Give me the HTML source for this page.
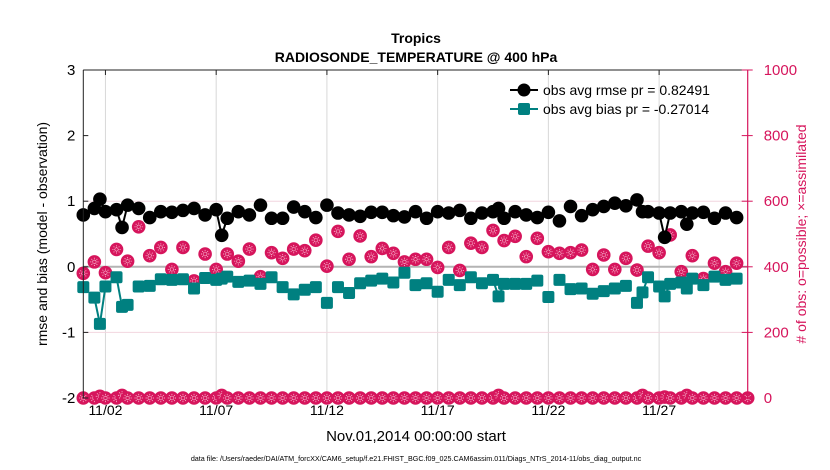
<!DOCTYPE html>
<html><head><meta charset="utf-8"><style>
html,body{margin:0;padding:0;background:#fff;}
svg{display:block;font-family:"Liberation Sans",sans-serif;}
</style></head><body>
<svg id="chart" width="830" height="470" viewBox="0 0 830 470">
<text x="416" y="43" text-anchor="middle" font-size="14" font-weight="bold">Tropics</text>
<text x="416" y="62" text-anchor="middle" font-size="14" font-weight="bold">RADIOSONDE_TEMPERATURE @ 400 hPa</text>
<g id="grid"></g>
<g id="marks"></g>
<g id="axes"></g>
<text transform="translate(47,234) rotate(-90)" text-anchor="middle" font-size="14">rmse and bias (model - observation)</text>
<text transform="translate(806,234) rotate(-90)" text-anchor="middle" font-size="14" fill="#d6155c"># of obs: o=possible; ×=assimilated</text>
<text x="416" y="441" text-anchor="middle" font-size="15">Nov.01,2014 00:00:00 start</text>
<text x="416" y="461" text-anchor="middle" font-size="7.2">data file: /Users/raeder/DAI/ATM_forcXX/CAM6_setup/f.e21.FHIST_BGC.f09_025.CAM6assim.011/Diags_NTrS_2014-11/obs_diag_output.nc</text>
<g>
<line x1="510" y1="90" x2="538" y2="90" stroke="#000" stroke-width="2"/>
<circle cx="524" cy="90" r="6.5" fill="#000"/>
<text x="543" y="95" font-size="14">obs avg rmse pr = 0.82491</text>
<line x1="510" y1="109" x2="538" y2="109" stroke="#008080" stroke-width="2"/>
<rect x="518" y="103" width="12" height="12" rx="2" fill="#008080"/>
<text x="543" y="114" font-size="14">obs avg bias pr = -0.27014</text>
</g>
</svg>
<script>
// time slots: 6-hourly index from Nov.01 00:00 (4 per day)
const errSlots = [0,2,3,4,6,7,8,10,12,14,16,18,20,22,24,25,26,28,30,32,34,36,38,40,42,44,46,48,50,52,54,56,58,60,62,64,66,68,70,72,74,75,76,78,80,82,84,86,88,90,92,94,96,98,100,101,102,104,105,106,108,109,110,112,114,116,118];
const rmseVals = [0.79,0.89,1.03,0.84,0.87,0.60,0.94,0.89,0.75,0.84,0.83,0.86,0.89,0.79,0.87,0.48,0.74,0.84,0.79,0.94,0.74,0.74,0.91,0.84,0.75,0.94,0.82,0.79,0.77,0.83,0.83,0.78,0.76,0.84,0.74,0.84,0.82,0.86,0.74,0.82,0.84,0.89,0.74,0.84,0.79,0.75,0.83,0.70,0.92,0.78,0.87,0.92,0.97,0.93,1.02,0.84,0.84,0.82,0.45,0.82,0.84,0.65,0.82,0.83,0.74,0.82,0.75];
const biasVals = [-0.31,-0.47,-0.87,-0.30,-0.16,-0.61,-0.58,-0.30,-0.29,-0.19,-0.20,-0.19,-0.33,-0.17,-0.20,-0.18,-0.15,-0.23,-0.21,-0.26,-0.16,-0.31,-0.42,-0.35,-0.31,-0.55,-0.31,-0.40,-0.25,-0.21,-0.18,-0.24,-0.09,-0.28,-0.25,-0.38,-0.20,-0.28,-0.16,-0.25,-0.20,-0.45,-0.26,-0.26,-0.26,-0.21,-0.46,-0.20,-0.34,-0.33,-0.41,-0.37,-0.33,-0.29,-0.55,-0.39,-0.16,-0.30,-0.45,-0.26,-0.24,-0.33,-0.18,-0.28,-0.15,-0.20,-0.18];
const obsSlots = [0,2,4,6,8,10,12,14,16,18,20,22,24,26,28,30,32,34,36,38,40,42,44,46,48,50,52,54,56,58,60,62,64,66,68,70,72,74,76,78,80,82,84,86,88,90,92,94,96,98,100,102,104,106,108,110,112,114,116,118];
const obsPossible = [380,415,382,453,417,522,434,459,392,459,357,439,392,439,417,454,370,443,426,454,449,481,402,508,423,494,431,456,441,415,423,423,398,459,389,472,459,511,480,493,431,487,446,441,443,451,392,436,392,426,390,463,443,497,385,434,364,411,385,411];
const lowSlots = [0,2,3,4,6,7,8,10,12,14,16,18,20,22,24,25,26,28,30,32,34,36,38,40,42,44,46,48,50,52,54,56,58,60,62,64,66,68,70,72,74,75,76,78,80,82,84,86,88,90,92,94,96,98,100,101,102,104,105,106,108,109,110,112,114,116,118,120];
const lowCounts = [0,0,5,0,0,8,0,0,0,0,0,0,0,0,0,8,0,0,0,0,0,0,0,0,0,0,0,0,0,0,0,0,0,0,0,0,0,0,0,0,0,8,0,0,0,0,0,0,0,0,0,0,0,0,0,8,0,0,3,0,0,8,0,0,0,0,0,0];
const xTickDays = [1,6,11,16,21,26];
const xTickLabels = ['11/02','11/07','11/12','11/17','11/22','11/27'];
const yTicks = [-2,-1,0,1,2,3];
const y2Ticks = [0,200,400,600,800,1000];

const NS='http://www.w3.org/2000/svg';
const L=83.3,R=747.7,T=70,B=398;
const xs = s => L + (s/4)/30*(R-L);
const xd = d => L + d/30*(R-L);
const y1 = v => B - (v+2)/5*(B-T);
const y2 = v => B - v/1000*(B-T);
function mk(tag,attrs,parent){const e=document.createElementNS(NS,tag);for(const k in attrs)e.setAttribute(k,attrs[k]);parent.appendChild(e);return e;}
const grid=document.getElementById('grid'),marks=document.getElementById('marks'),axes=document.getElementById('axes');
const PINK='#d6155c';
xTickDays.forEach(d=>{const g=mk('line',{x1:xd(d),x2:xd(d),y1:T,y2:B,stroke:'#d8d8d8','stroke-width':1},grid);

});
[1,-1].forEach(v=>{const g=mk('line',{x1:L,x2:R,y1:y1(v),y2:y1(v),stroke:'#f2d6df','stroke-width':1},grid);

});
const zl=mk('line',{x1:L,x2:R,y1:y1(0),y2:y1(0),stroke:'#b4b4b4','stroke-width':2},grid);


function pinkMarker(cx,cy,name){
 const g=mk('g',{},marks);
 
 
 mk('circle',{cx:cx,cy:cy,r:6.8,fill:PINK},g);
 for(let a=0;a<8;a++){const an=a*Math.PI/4;mk('line',{x1:cx+1.3*Math.cos(an),y1:cy+1.3*Math.sin(an),x2:cx+4.3*Math.cos(an),y2:cy+4.3*Math.sin(an),stroke:'#f7b8cf','stroke-width':0.9,'stroke-dasharray':'1 0.8'},g);}
}
lowSlots.forEach((s,i)=>pinkMarker(xs(s),y2(lowCounts[i]),'obs-count-low'));
obsSlots.forEach((s,i)=>pinkMarker(xs(s),y2(obsPossible[i]),'obs-count-possible'));
function drawSeries(vals,color,name,markerFn){
 for(let i=1;i<errSlots.length;i++){
  if(errSlots[i]-errSlots[i-1]===1){const l=mk('line',{x1:xs(errSlots[i-1]),y1:y1(vals[i-1]),x2:xs(errSlots[i]),y2:y1(vals[i]),stroke:color,'stroke-width':2},marks);
  
  }
 }
 errSlots.forEach((s,i)=>markerFn(xs(s),y1(vals[i])));
}
drawSeries(biasVals,'#008080','bias',(x,y)=>{const r=mk('rect',{x:x-6,y:y-6,width:12,height:12,rx:2,fill:'#008080'},marks);
 
 });
drawSeries(rmseVals,'#000','rmse',(x,y)=>{const c=mk('circle',{cx:x,cy:y,r:6.8,fill:'#000'},marks);
 
 });
mk('line',{x1:L,x2:R,y1:T,y2:T,stroke:'#222','stroke-width':1},axes);
mk('line',{x1:L,x2:L,y1:T,y2:B,stroke:'#222','stroke-width':1},axes);
mk('line',{x1:R,x2:R,y1:T,y2:B,stroke:PINK,'stroke-width':1.2},axes);
xTickDays.forEach((d,i)=>{mk('line',{x1:xd(d),x2:xd(d),y1:T,y2:T+5,stroke:'#222'},axes);
 const t=mk('text',{x:xd(d),y:415,'text-anchor':'middle','font-size':14},axes);t.textContent=xTickLabels[i];
 
 });
yTicks.forEach(v=>{mk('line',{x1:L,x2:L+5,y1:y1(v),y2:y1(v),stroke:'#222'},axes);
 const t=mk('text',{x:L-8,y:y1(v)+5,'text-anchor':'end','font-size':15},axes);t.textContent=String(v);
 
 });
y2Ticks.forEach(v=>{mk('line',{x1:R-6,x2:R+5,y1:y2(v),y2:y2(v),stroke:PINK},axes);
 const t=mk('text',{x:R+16,y:y2(v)+5,'font-size':15,fill:PINK},axes);t.textContent=String(v);
 
 });
</script>
</body></html>
